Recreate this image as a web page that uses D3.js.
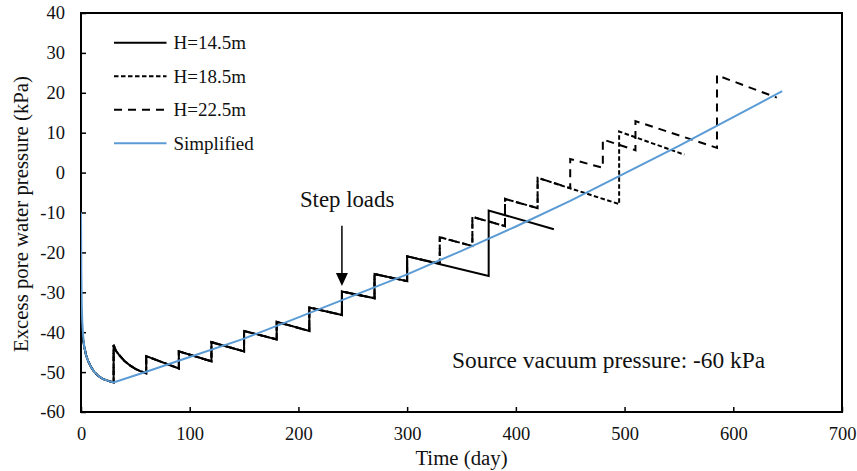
<!DOCTYPE html>
<html>
<head>
<meta charset="utf-8">
<script src="https://cdn.jsdelivr.net/npm/d3@7"></script>
<style>
  body { margin: 0; background: #fff; }
  svg { display: block; }
  svg text { font-family: "Liberation Serif", "Times New Roman", serif; fill: #111; }
</style>
</head>
<body>
<svg id="chart" width="857" height="471"></svg>
<script>
// Axis ticks
const xTicks = [0, 100, 200, 300, 400, 500, 600, 700];
const yTicks = [-60, -50, -40, -30, -20, -10, 0, 10, 20, 30, 40];

// Loading history shared by all three embankment heights (day, kPa)
const sharedTime = [0, 1, 2, 3, 4.5, 6.5, 9, 12, 16, 20, 25, 30,
  30, 32, 35, 40, 45, 50, 55, 60,
  60, 90, 90, 120, 120, 150, 150, 180, 180, 210, 210, 240, 240, 270, 270, 300, 300];
const sharedValue = [-37, -40, -42, -43.6, -45.6, -47.2, -48.6, -49.9, -51, -51.7, -52.2, -52.6,
  -43.2, -44.6, -45.7, -47.2, -48.3, -49.2, -49.8, -50.3,
  -46, -49.1, -44.8, -47.3, -42.5, -44.8, -39.7, -41.8, -37.4, -39.7, -33.8, -35.7, -29.8, -31.5, -25.4, -27.2, -21];

// H = 14.5 m after day 300
const h145Time = [375, 375, 435];
const h145Value = [-25.9, -9.5, -14.2];

// H = 18.5 m after day 300
const h185Time = [330, 330, 360, 360, 390, 390, 420, 420, 495, 495, 555];
const h185Value = [-22.8, -16.2, -18.4, -11.1, -13.4, -6.6, -8.9, -1.3, -7.9, 10.3, 4.5];

// H = 22.5 m after day 300
const h225Time = [330, 330, 360, 360, 390, 390, 420, 420, 450, 450, 480, 480, 510, 510, 585, 585, 640];
const h225Value = [-22.8, -16.2, -18.4, -11.1, -13.4, -6.6, -8.9, -1.3, -3.9, 3.4, 1.2, 8.3, 5.6, 12.9, 6.2, 24.4, 18.8];

// Simplified continuous curve
const simplifiedTime = [0, 0.3, 0.7, 1.2, 2, 3, 4.5, 6.5, 9, 12, 16, 20, 25, 30,
  60, 100, 150, 200, 250, 300, 350, 400, 450, 500, 550, 600, 645];
const simplifiedValue = [-10, -25, -33, -37.5, -41, -43.6, -45.6, -47.2, -48.6, -49.9, -51, -51.7, -52.2, -52.6,
  -49.9, -46.2, -41.6, -36.3, -30.9, -25.5, -19.6, -13.5, -7.1, -0.2, 6.7, 13.9, 20.4];

const seriesNames = ["H=14.5m", "H=18.5m", "H=22.5m", "Simplified"];

const zip = (ts, vs) => ts.map((t, i) => ({ t, v: vs[i] }));

const series = [
  { name: seriesNames[0], pts: zip(sharedTime.concat(h145Time), sharedValue.concat(h145Value)), color: "#000", dash: null, width: 2 },
  { name: seriesNames[1], pts: zip(sharedTime.concat(h185Time), sharedValue.concat(h185Value)), color: "#000", dash: "4.5,2.5", width: 2 },
  { name: seriesNames[2], pts: zip(sharedTime.concat(h225Time), sharedValue.concat(h225Value)), color: "#000", dash: "8,6", width: 2 },
  { name: seriesNames[3], pts: zip(simplifiedTime, simplifiedValue), color: "#5B9BD5", dash: null, width: 2 }
];

const serif = '"Liberation Serif", "Times New Roman", serif';
const svg = d3.select("#chart");
const plotLeft = 81, plotRight = 842, plotTop = 13, plotBottom = 412;

const x = d3.scaleLinear().domain([0, 700]).range([plotLeft, plotRight]);
const y = d3.scaleLinear().domain([-60, 40]).range([plotBottom, plotTop]);

// Plain hyphen-minus labels
const plainNumber = d => String(d);

// Axes with inside ticks
const xAxis = svg.append("g").attr("transform", `translate(0,${plotBottom})`)
  .call(d3.axisBottom(x).tickValues(xTicks).tickFormat(plainNumber)
    .tickSizeInner(-5).tickSizeOuter(0).tickPadding(15));
const yAxis = svg.append("g").attr("transform", `translate(${plotLeft},0)`)
  .call(d3.axisLeft(y).tickValues(yTicks).tickFormat(plainNumber)
    .tickSizeInner(-5).tickSizeOuter(0).tickPadding(16));

[xAxis, yAxis].forEach(g => {
  g.attr("font-family", serif).attr("font-size", 18.5);
  g.select(".domain").remove();
  g.selectAll(".tick line").attr("stroke", "#000").attr("stroke-width", 1.5);
  g.selectAll(".tick text")
    .attr("font-family", serif)
    .attr("font-size", 18.5)
    .attr("fill", "#262626");
});

// Plot frame
svg.append("rect")
  .attr("x", plotLeft).attr("y", plotTop)
  .attr("width", plotRight - plotLeft).attr("height", plotBottom - plotTop)
  .attr("fill", "none").attr("stroke", "#000").attr("stroke-width", 2);

// Clip to plot area
svg.append("clipPath").attr("id", "plotClip")
  .append("rect").attr("x", plotLeft).attr("y", plotTop)
  .attr("width", plotRight - plotLeft).attr("height", plotBottom - plotTop);

const line = d3.line().x(d => x(d.t)).y(d => y(d.v));

const plot = svg.append("g").attr("clip-path", "url(#plotClip)");
plot.selectAll("path.series")
  .data(series)
  .join("path")
  .attr("class", "series")
  .attr("d", d => line(d.pts))
  .attr("fill", "none")
  .attr("stroke", d => d.color)
  .attr("stroke-width", d => d.width)
  .attr("stroke-dasharray", d => d.dash)
  .attr("stroke-linejoin", "miter");

// Legend
const legend = svg.append("g");
const legendY = [42.7, 76.3, 109.8, 143.3];
series.forEach((s, i) => {
  legend.append("line")
    .attr("x1", 114).attr("x2", 166.5)
    .attr("y1", legendY[i]).attr("y2", legendY[i])
    .attr("stroke", s.color).attr("stroke-width", s.width)
    .attr("stroke-dasharray", s.dash);
  legend.append("text")
    .attr("x", 173.5).attr("y", legendY[i] + 6.5)
    .style("font-size", "19px")
    .text(s.name);
});

// Axis titles
svg.append("text")
  .attr("x", (plotLeft + plotRight) / 2).attr("y", 465)
  .attr("text-anchor", "middle")
  .style("font-size", "20.8px")
  .text("Time (day)");

svg.append("text")
  .attr("transform", `translate(27.5,${(plotTop + plotBottom) / 2 + 1.5}) rotate(-90)`)
  .attr("text-anchor", "middle")
  .style("font-size", "20.8px")
  .text("Excess pore water pressure (kPa)");

// "Step loads" annotation with arrow
const arrowX = x(240);
const arrowTop = y(-13.3), arrowTip = y(-28.4);
svg.append("line")
  .attr("x1", arrowX).attr("x2", arrowX)
  .attr("y1", arrowTop).attr("y2", arrowTip - 10)
  .attr("stroke", "#000").attr("stroke-width", 1.5);
svg.append("path")
  .attr("d", `M${arrowX - 6},${arrowTip - 13} L${arrowX + 6},${arrowTip - 13} L${arrowX},${arrowTip} Z`)
  .attr("fill", "#000");
svg.append("text")
  .attr("x", arrowX - 42).attr("y", 207)
  .style("font-size", "22.8px")
  .text("Step loads");

svg.append("text")
  .attr("x", 452).attr("y", 368)
  .style("font-size", "23.4px")
  .text("Source vacuum pressure: -60 kPa");
</script>
</body>
</html>
